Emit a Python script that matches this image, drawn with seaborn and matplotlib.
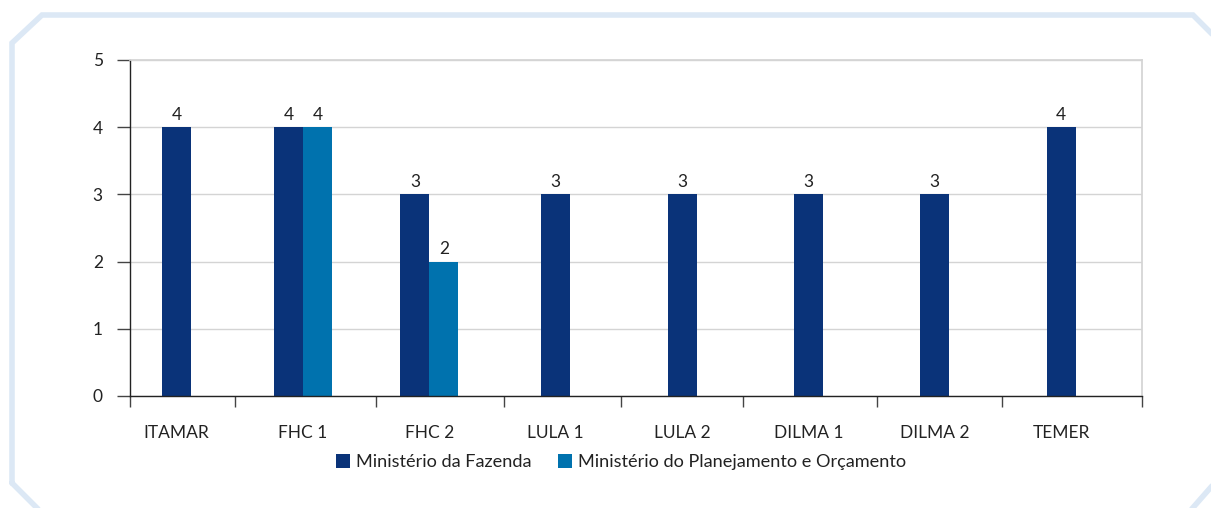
import matplotlib
matplotlib.use("Agg")
import matplotlib.pyplot as plt
from matplotlib.lines import Line2D
from matplotlib.patches import Patch
import seaborn as sns
import pandas as pd

# ---- data ----
categories = ["ITAMAR", "FHC 1", "FHC 2", "LULA 1", "LULA 2", "DILMA 1", "DILMA 2", "TEMER"]
series_names = ["Ministério da Fazenda", "Ministério do Planejamento e Orçamento"]
fazenda = [4, 4, 3, 3, 3, 3, 3, 4]
planejamento = [None, 4, 2, None, None, None, None, None]
y_ticks = [0, 1, 2, 3, 4, 5]

colors = {"Ministério da Fazenda": "#0a3379", "Ministério do Planejamento e Orçamento": "#0072ae"}

sns.set_theme(style="white")
plt.rcParams["font.family"] = ["Lato", "DejaVu Sans"]
FS = 12.5
LFS = 13.1

rows = []
for c, f, p in zip(categories, fazenda, planejamento):
    rows.append({"cat": c, "serie": series_names[0], "valor": f, "pair": p is not None})
    if p is not None:
        rows.append({"cat": c, "serie": series_names[1], "valor": p, "pair": True})
df = pd.DataFrame(rows)

W, H = 1211, 508
fig = plt.figure(figsize=(W / 100, H / 100), dpi=100)
ax = fig.add_axes([130 / W, 1 - 396 / H, (1142 - 130) / W, (396 - 60) / H])

single = df[~df["pair"]]
paired = df[df["pair"]]
sns.barplot(data=single, x="cat", y="valor", hue="serie", order=categories,
            hue_order=series_names, palette=colors, width=0.23, dodge=False,
            legend=False, ax=ax, saturation=1, linewidth=0)
sns.barplot(data=paired, x="cat", y="valor", hue="serie", order=categories,
            hue_order=series_names, palette=colors, width=0.46, dodge=True,
            legend=False, ax=ax, saturation=1, linewidth=0)

for cont in ax.containers:
    ax.bar_label(cont, fmt="%g", padding=3, fontsize=FS, color="#222222")

ax.set_xlim(-0.37, 7.64)
ax.set_ylim(0, 5)
ax.set_yticks(y_ticks)
ax.set_xlabel("")
ax.set_ylabel("")
ax.set_axisbelow(True)
ax.yaxis.grid(True, color="#d4d4d4", linewidth=1)
ax.xaxis.grid(False)

for s in ["left", "bottom"]:
    ax.spines[s].set_color("#222222")
    ax.spines[s].set_linewidth(1)
ax.spines["right"].set_color("#d4d4d4")
ax.spines["top"].set_color("#d4d4d4")

ax.tick_params(axis="y", which="major", length=9.5, width=1, color="#444444",
               pad=10, labelsize=FS, labelcolor="#222222", left=True, direction="out")
ax.set_xticks(range(len(categories)))
ax.set_xticklabels(categories)
ax.tick_params(axis="x", which="major", length=0, pad=21, labelsize=FS, labelcolor="#222222")
ax.set_xticks([-0.37, 0.46, 1.58, 2.59, 3.52, 4.48, 5.54, 6.53, 7.64], minor=True)
ax.tick_params(axis="x", which="minor", length=8, width=1, color="#444444",
               bottom=True, direction="out")

handles = [Patch(facecolor=colors[n], edgecolor="none") for n in series_names]
fig.legend(handles, series_names, loc="center", bbox_to_anchor=(621 / W, 1 - 462 / H),
           ncol=2, frameon=False, fontsize=LFS, handlelength=0.77, handleheight=0.77,
           handletextpad=0.33, columnspacing=1.5, labelcolor="#222222")

# decorative frame
px = [12, 12, 42, 1193, 1226, 1226, 1190, 40, 12]
py = [483, 43, 15, 15, 48, 470, 511, 511, 483]
fig.add_artist(Line2D([x / W for x in px], [1 - y / H for y in py],
                      transform=fig.transFigure, color="#dce8f5", linewidth=4,
                      solid_joinstyle="miter"))

fig.savefig("out.png", dpi=100)
